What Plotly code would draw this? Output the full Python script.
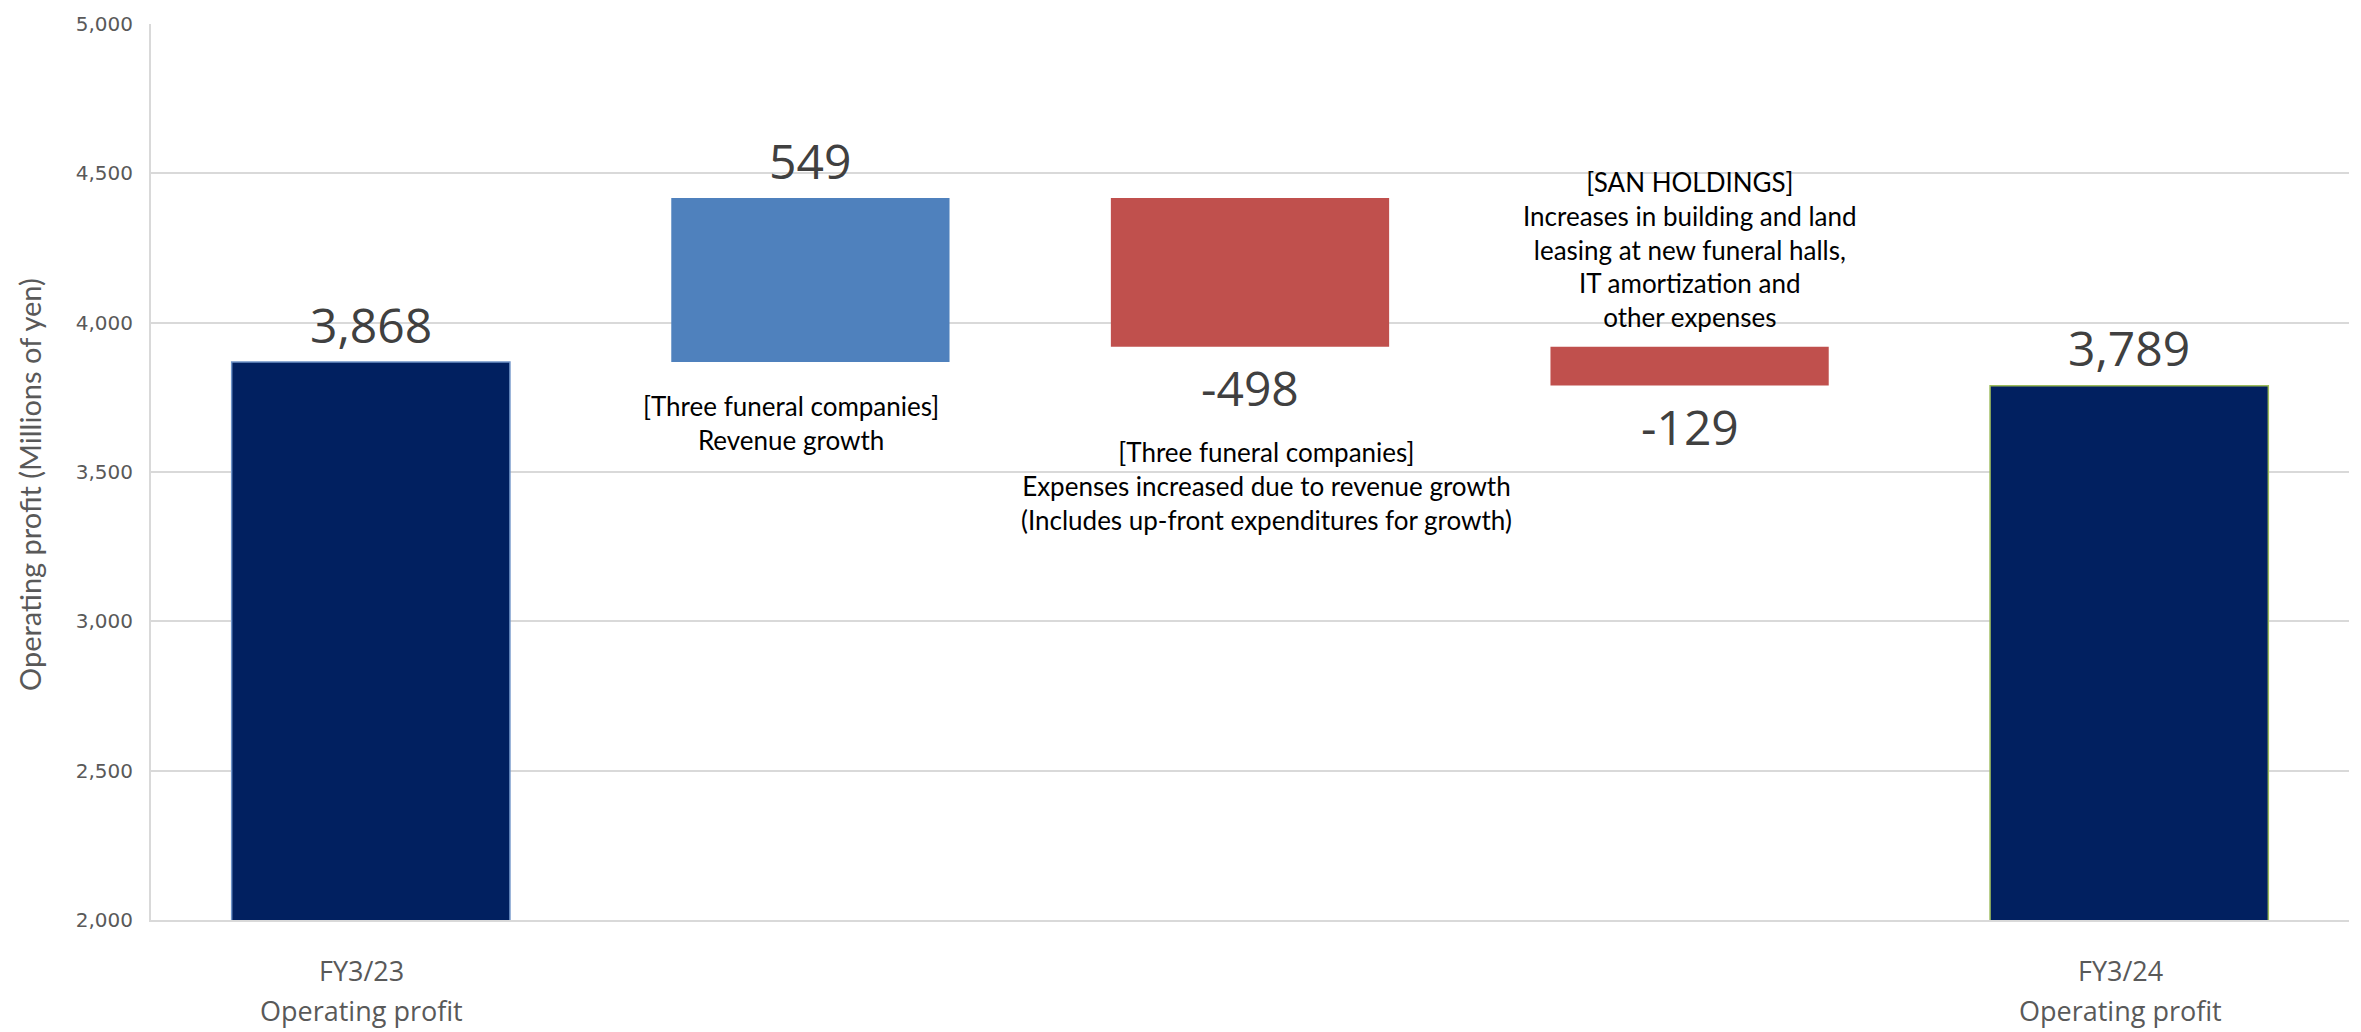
import plotly.graph_objects as go

# ---------------- data ----------------
categories = ["FY3/23", "Revenue growth", "Expenses increase", "SAN HOLDINGS", "FY3/24"]
values = [3868, 549, -498, -129, 3789]
measures = ["total", "relative", "relative", "relative", "total"]
tick_line1 = ["FY3/23", "", "", "", "FY3/24"]
tick_line2 = ["Operating profit", "", "", "", "Operating profit"]
notes = [
    "",
    "[Three funeral companies]<br>Revenue growth",
    "[Three funeral companies]<br>Expenses increased due to revenue growth<br>(Includes up-front expenditures for growth)",
    "[SAN HOLDINGS]<br>Increases in building and land<br>leasing at new funeral halls,<br>IT amortization and<br>other expenses",
    "",
]
y_title = "Operating profit (Millions of yen)"
y_ticks = [2000, 2500, 3000, 3500, 4000, 4500, 5000]

# ---------------- styles ----------------
TOTAL = "#012060"
UP = "#4F81BD"
DOWN = "#C0504D"
fill_colors = []
for m, v in zip(measures, values):
    if m == "total":
        fill_colors.append(TOTAL)
    else:
        fill_colors.append(UP if v >= 0 else DOWN)
line_colors = ["#6F93C8", "rgba(0,0,0,0)", "rgba(0,0,0,0)", "rgba(0,0,0,0)", "#9BBB59"]

# waterfall bases computed from data
bases, ys, running = [], [], 0
for m, v in zip(measures, values):
    if m == "total":
        bases.append(0)
        ys.append(v)
        running = v
    else:
        bases.append(running)
        ys.append(v)
        running += v

fig = go.Figure()
fig.add_trace(go.Bar(
    x=categories, y=ys, base=bases,
    marker=dict(color=fill_colors, line=dict(color=line_colors, width=1.5)),
    width=0.633, hoverinfo="skip", showlegend=False,
))

annotations = []
# value labels
for c, b, y, v in zip(categories, bases, ys, values):
    end = b + y
    annotations.append(dict(
        x=c, y=end, xref="x", yref="y", text=f"{v:,}", showarrow=False,
        yanchor="middle", yshift=38 if v > 0 else -41,
        font=dict(family="Open Sans", size=48, color="#404040"),
    ))

# notes
note_cfg = {
    1: dict(anchor="bottom_of_bar", yanchor="top", yshift=-26, xshift=-19),
    2: dict(anchor="bottom_of_bar", yanchor="top", yshift=-87, xshift=16),
    3: dict(anchor="top_of_bar", yanchor="bottom", yshift=12, xshift=0),
}
for i, cfg in note_cfg.items():
    lo = min(bases[i], bases[i] + ys[i])
    hi = max(bases[i], bases[i] + ys[i])
    yy = lo if cfg["anchor"] == "bottom_of_bar" else hi
    annotations.append(dict(
        x=categories[i], y=yy, xref="x", yref="y", text=notes[i], showarrow=False,
        yanchor=cfg["yanchor"], yshift=cfg["yshift"], xshift=cfg["xshift"], align="center",
        font=dict(family="Lato", size=26, color="#000000"),
    ))

# category labels
for c, l1, l2 in zip(categories, tick_line1, tick_line2):
    if l1:
        annotations.append(dict(x=c, y=0, xref="x", yref="paper", text=l1, showarrow=False,
                                yanchor="middle", yshift=-50, xshift=-9,
                                font=dict(family="Open Sans", size=27, color="#595959")))
    if l2:
        annotations.append(dict(x=c, y=0, xref="x", yref="paper", text=l2, showarrow=False,
                                yanchor="middle", yshift=-90, xshift=-9,
                                font=dict(family="Open Sans", size=27, color="#595959")))

# y-axis title (as annotation so it can sit slightly below centre, like the reference)
annotations.append(dict(
    x=0, y=0.5, xref="paper", yref="paper", text=y_title, showarrow=False,
    textangle=-90, xanchor="center", yanchor="middle", xshift=-122, yshift=-13,
    font=dict(family="Lato", size=29, color="#595959"),
))

fig.update_layout(
    width=2361, height=1032,
    margin=dict(l=151, r=12, t=20, b=112),
    paper_bgcolor="white", plot_bgcolor="white",
    annotations=annotations,
)
fig.update_xaxes(
    type="category", showticklabels=False, showgrid=False, zeroline=False,
    showline=True, linecolor="#D9D9D9", linewidth=2,
)
fig.update_yaxes(
    range=[2000, 5000], tickvals=y_ticks, tickformat=",",
    showgrid=True, gridcolor="#D9D9D9", gridwidth=2, zeroline=False,
    showline=True, linecolor="#D9D9D9", linewidth=2,
    ticks="outside", ticklen=12, tickcolor="rgba(0,0,0,0)",
    tickfont=dict(family="DejaVu Sans", size=20, color="#595959"),
)

fig.write_html(
    "out.html",
    config={"displayModeBar": False},
    post_script="document.body.style.margin='0';document.body.style.overflow='hidden';",
)
